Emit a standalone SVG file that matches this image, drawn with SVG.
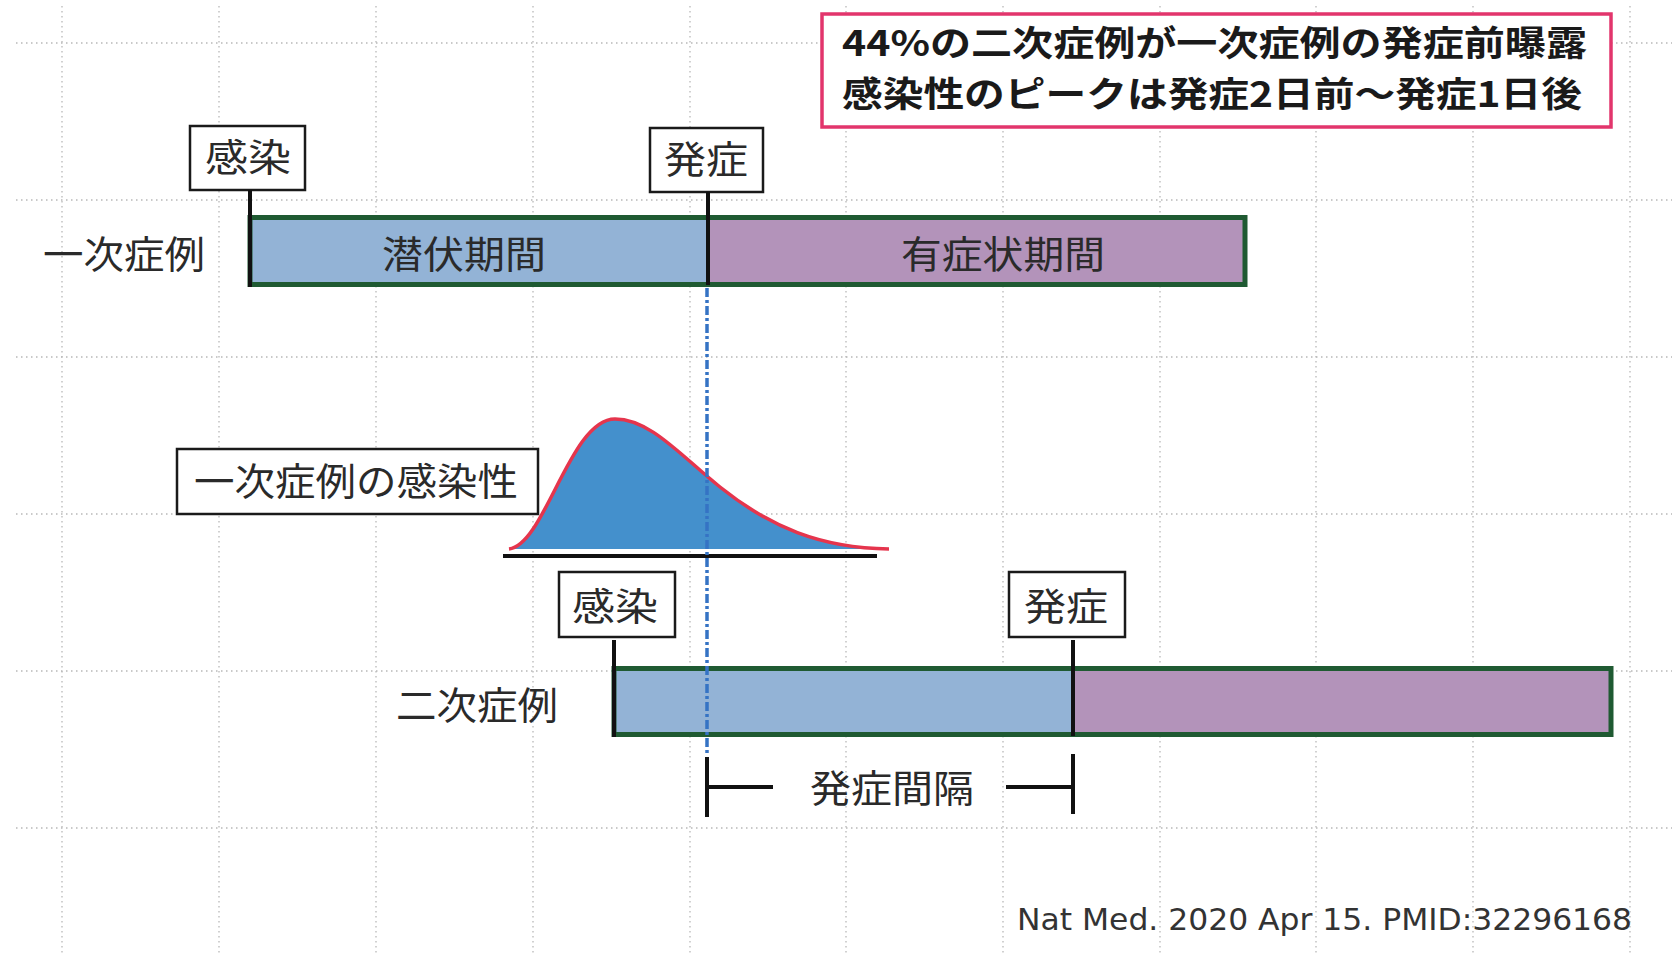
<svg xmlns="http://www.w3.org/2000/svg" width="1672" height="953" viewBox="0 0 1672 953">
<style>
.grid line{stroke:#b8b8b8;stroke-width:1.3;stroke-dasharray:1.5 3.5}
.lbl{fill:#fff;stroke:#1a1a1a;stroke-width:2.5}
.jp{font-family:"Noto Sans CJK JP","Noto Sans",sans-serif;fill:#2a2a2a;font-size:38px;dominant-baseline:central;text-anchor:middle}
.bold{font-weight:bold;fill:#1a1a1a;font-size:35px;text-anchor:start}
.blk{stroke:#111;stroke-width:4;fill:none}
.outline{fill:none;stroke:#1f5a32;stroke-width:5}
.blue{fill:#93b3d6}
.purple{fill:#b393ba}
</style>
<rect width="1672" height="953" fill="#fff"/>
<g class="grid">
<line x1="16" y1="43" x2="1672" y2="43"/>
<line x1="16" y1="200" x2="1672" y2="200"/>
<line x1="16" y1="357" x2="1672" y2="357"/>
<line x1="16" y1="514" x2="1672" y2="514"/>
<line x1="16" y1="671" x2="1672" y2="671"/>
<line x1="16" y1="828" x2="1672" y2="828"/>
<line x1="62" y1="6" x2="62" y2="953"/>
<line x1="219" y1="6" x2="219" y2="953"/>
<line x1="376" y1="6" x2="376" y2="953"/>
<line x1="533" y1="6" x2="533" y2="953"/>
<line x1="690" y1="6" x2="690" y2="953"/>
<line x1="846" y1="6" x2="846" y2="953"/>
<line x1="1003" y1="6" x2="1003" y2="953"/>
<line x1="1160" y1="6" x2="1160" y2="953"/>
<line x1="1316" y1="6" x2="1316" y2="953"/>
<line x1="1473" y1="6" x2="1473" y2="953"/>
<line x1="1630" y1="6" x2="1630" y2="953"/>
</g>
<g id="note">
<rect x="822" y="14" width="789" height="113" fill="#fff" stroke="#e2356c" stroke-width="3.5"/>
<text class="jp bold" x="842" y="40" textLength="745" lengthAdjust="spacingAndGlyphs">44%の二次症例が一次症例の発症前曝露</text>
<text class="jp bold" x="842" y="91" textLength="740" lengthAdjust="spacingAndGlyphs">感染性のピークは発症2日前〜発症1日後</text>
</g>
<g id="primary-bar">
<rect class="blue" x="250" y="217" width="458" height="68"/>
<rect class="purple" x="708" y="217" width="537" height="68"/>
<rect class="outline" x="250" y="217.5" width="995" height="67"/>
<text class="jp" x="464" y="251" textLength="164" lengthAdjust="spacingAndGlyphs">潜伏期間</text>
<text class="jp" x="1003" y="251" textLength="204" lengthAdjust="spacingAndGlyphs">有症状期間</text>
</g>
<g id="primary-label"><text class="jp" x="124" y="251" textLength="162" lengthAdjust="spacingAndGlyphs">一次症例</text></g>
<g id="primary-infection">
<rect class="lbl" x="190" y="126" width="115" height="64"/>
<text class="jp" x="248" y="154" textLength="86" lengthAdjust="spacingAndGlyphs">感染</text>
</g>
<g id="primary-onset">
<rect class="lbl" x="650" y="128" width="113" height="64"/>
<text class="jp" x="706" y="156" textLength="84" lengthAdjust="spacingAndGlyphs">発症</text>
</g>
<g id="infectiousness">
<path d="M509 549 C545 545 570 419 615 419 C650 419 680 455 720 487 C770 527 820 548 889 549 Z" fill="#4490cc" stroke="none"/>
<path d="M509 549 C545 545 570 419 615 419 C650 419 680 455 720 487 C770 527 820 548 889 549" fill="none" stroke="#e5354d" stroke-width="3.5"/>
<line class="blk" x1="503" y1="556" x2="877" y2="556" stroke-width="4.5"/>
</g>
<g id="infectiousness-label">
<rect class="lbl" x="177" y="449" width="361" height="65"/>
<text class="jp" x="356" y="478" textLength="324" lengthAdjust="spacingAndGlyphs">一次症例の感染性</text>
</g>
<g id="secondary-bar">
<rect class="blue" x="614" y="668" width="459" height="67"/>
<rect class="purple" x="1073" y="668" width="538" height="67"/>
<rect class="outline" x="614" y="668.5" width="997" height="66"/>
</g>
<g id="secondary-label"><text class="jp" x="477" y="702" textLength="162" lengthAdjust="spacingAndGlyphs">二次症例</text></g>
<g id="secondary-infection">
<rect class="lbl" x="559" y="572" width="116" height="65"/>
<text class="jp" x="615" y="603" textLength="86" lengthAdjust="spacingAndGlyphs">感染</text>
</g>
<g id="secondary-onset">
<rect class="lbl" x="1009" y="572" width="116" height="65"/>
<text class="jp" x="1066" y="603" textLength="84" lengthAdjust="spacingAndGlyphs">発症</text>
</g>
<g id="connectors">
<line class="blk" x1="250" y1="190" x2="250" y2="287"/>
<line class="blk" x1="708" y1="192" x2="708" y2="285"/>
<line class="blk" x1="614" y1="640" x2="614" y2="737"/>
<line class="blk" x1="1073" y1="640" x2="1073" y2="736"/>
<line x1="707" y1="288" x2="707" y2="753" stroke="#3573c4" stroke-width="3.5" stroke-dasharray="9 3 3 3"/>
<polyline class="blk" points="707,757 707,817" stroke-width="3"/>
<polyline class="blk" points="707,787 773,787" stroke-width="3"/>
<polyline class="blk" points="1006,787 1073,787" stroke-width="3"/>
<polyline class="blk" points="1073,754 1073,814" stroke-width="3"/>
</g>
<g id="interval-label"><text class="jp" x="892" y="785" textLength="164" lengthAdjust="spacingAndGlyphs">発症間隔</text></g>
<g id="citation"><text x="1017" y="930" font-family="'DejaVu Sans Condensed','DejaVu Sans',sans-serif" font-size="31" fill="#333" textLength="615" lengthAdjust="spacingAndGlyphs">Nat Med. 2020 Apr 15. PMID:32296168</text></g>
</svg>
